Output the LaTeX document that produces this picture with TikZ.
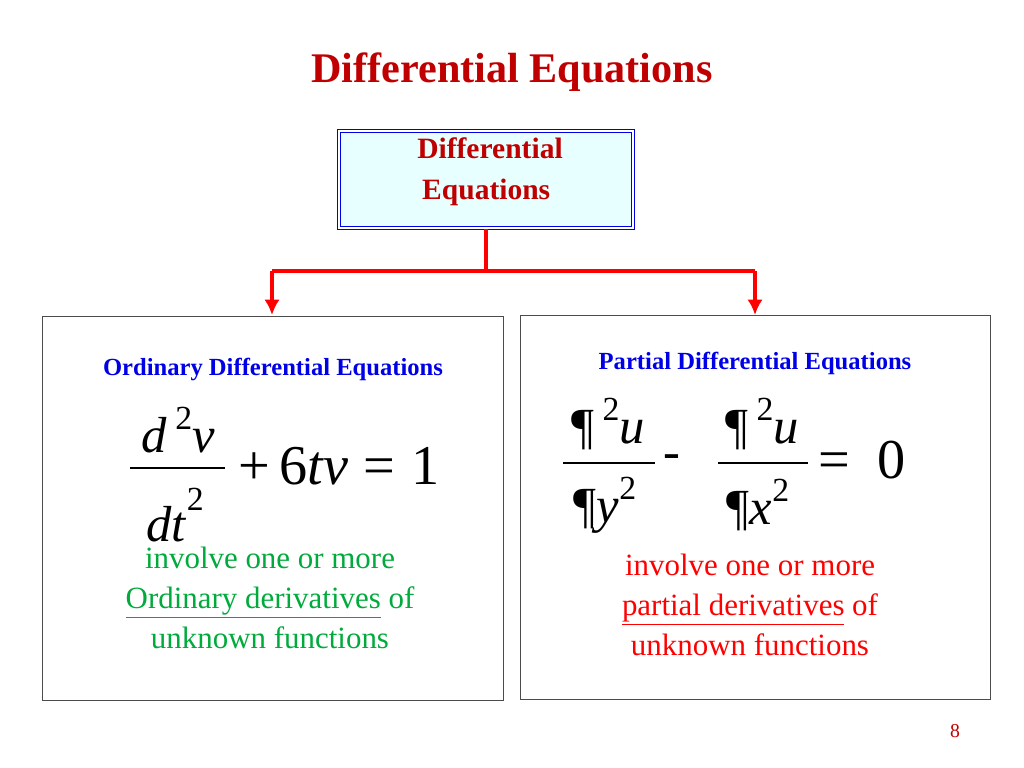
\documentclass[tikz,border=0pt]{standalone}
\usepackage{fontspec}
\setmainfont{Liberation Serif}
\usetikzlibrary{positioning,arrows.meta}
\definecolor{titlered}{RGB}{192,0,0}
\definecolor{headblue}{RGB}{0,0,230}
\definecolor{ordgreen}{RGB}{0,170,60}
\definecolor{boxfill}{RGB}{232,255,255}
\tikzset{
  heading/.style={text=headblue, font=\bfseries\fontsize{17.5}{19}\selectfont},
  note/.style={align=center, font=\fontsize{22}{28.5}\selectfont},
  eq/.style={inner sep=0pt, font=\fontsize{36}{40}\selectfont},
  panel/.style={draw=black!70, thin, fill=white},
  feed/.style={draw=red, line width=2.2pt},
}
\begin{document}
\begin{tikzpicture}[x=0.025cm, y=-0.025cm]
  \useasboundingbox (0,0) rectangle (1024,768);
  % Titulo
    \node (title) at (512,72) {\fontsize{30}{32}\selectfont\bfseries\color{titlered}Differential Equations};
  % Caja superior
    \draw[headblue, double=white, double distance=1.2pt, line width=1pt, fill=boxfill] (339,131) rectangle (633,228);
    \node[align=left, text=titlered, font=\bfseries\fontsize{21}{29}\selectfont] (root) at (490,172) {Differential\\\,Equations};
  % Conectores
    \coordinate (top) at (486,229);
    \coordinate (mid) at (486,271);
    \coordinate (left) at (272,271);
    \coordinate (right) at (755,271);
    \coordinate (lend) at (272,315);
    \coordinate (rend) at (755,315);
    \draw[feed] (top) -- (mid);
    \draw[feed] (left) -- (right);
    \draw[feed, -{Latex[length=11pt,width=11pt]}] (left) -- (lend);
    \draw[feed, -{Latex[length=11pt,width=11pt]}] (right) -- (rend);
  % Cajas inferiores
    \draw[panel] (42,316) rectangle (503,700);
    \draw[panel] (520,315) rectangle (990,699);
  % Ordinarias
    \node[heading] (ode) at (273,369) {Ordinary Differential Equations};
    \draw[line width=1.2pt] (130,468) -- (225,468);
    \node[eq] (num1) at (178,430) {\textit{d}\,\raisebox{0.45em}{\fontsize{24}{26}\selectfont 2}\textit{v}};
    \node[eq] (den1) at (175,515) {\textit{dt}\raisebox{0.6em}{\fontsize{24}{26}\selectfont 2}};
    \node[eq, anchor=west, font=\fontsize{40}{42}\selectfont] (rhs1) at (238,466) {+\,6\textit{tv}\;=\;1};
    \node[note, text=ordgreen] (odetxt) at (270,598) {involve one or more\\\underline{Ordinary derivatives} of\\unknown functions};
  % Parciales
    \node[heading] (pde) at (755,363) {Partial Differential Equations};
    \draw[line width=1.2pt] (563,463) -- (655,463);
    \draw[line width=1.2pt] (718,463) -- (808,463);
    \node[eq] (num2) at (608,424) {¶\,\raisebox{0.45em}{\fontsize{24}{26}\selectfont 2}\textit{u}};
    \node[eq] (den2) at (605,505) {¶\textit{y}\raisebox{0.45em}{\fontsize{24}{26}\selectfont 2}};
    \node[eq] (minus) at (672,462) {-};
    \node[eq] (num3) at (762,424) {¶\,\raisebox{0.45em}{\fontsize{24}{26}\selectfont 2}\textit{u}};
    \node[eq] (den3) at (758,505) {¶\textit{x}\raisebox{0.45em}{\fontsize{24}{26}\selectfont 2}};
    \node[eq, font=\fontsize{40}{42}\selectfont] (rhs2) at (862,460) {=~~0};
    \node[note, text=red] (pdetxt) at (750,605) {involve one or more\\\underline{partial derivatives} of\\unknown functions};
  % Numero de pagina
    \node[text=titlered, font=\fontsize{14}{16}\selectfont] (page) at (955,731) {8};
\end{tikzpicture}
\end{document}
